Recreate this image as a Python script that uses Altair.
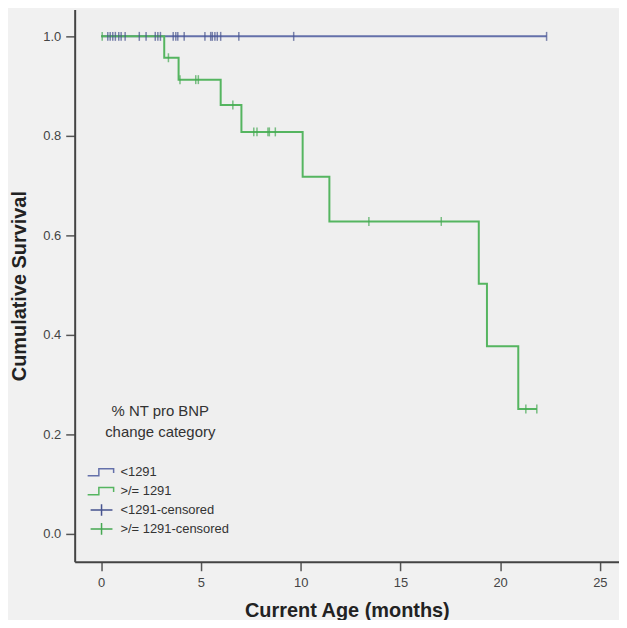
import altair as alt
import pandas as pd

# ---- data ----
# group "<1291": no events, all censored at survival 1.0
blue_censor_times = [0.33, 0.45, 0.58, 0.71, 0.88, 1.0, 1.2, 1.91, 2.25, 2.71, 2.84, 2.97,
                     3.61, 3.74, 3.84, 4.16, 5.2, 5.49, 5.57, 5.70, 5.82, 5.99, 6.9, 9.65, 22.33]
blue_start_time = 0.0
blue_level = 1.0

# group ">/= 1291": step curve (time where a level starts, survival level)
green_step_times = [0.0, 3.16, 3.88, 5.99, 7.03, 10.1, 11.44, 18.93, 19.34, 20.91]
green_step_surv = [1.0, 0.957, 0.913, 0.862, 0.808, 0.718, 0.628, 0.503, 0.377, 0.251]
green_censor_times = [0.05, 3.37, 3.95, 4.74, 4.87, 6.6, 7.65, 7.81, 8.36, 8.43, 8.73,
                      13.42, 17.05, 21.29, 21.84]

x_ticks = [0, 5, 10, 15, 20, 25]
y_ticks = [0.0, 0.2, 0.4, 0.6, 0.8, 1.0]

legend_labels = ["<1291", ">/= 1291", "<1291-censored", ">/= 1291-censored"]

BLUE = "#6470aa"
BLUE_DARK = "#46538f"
GREEN = "#55b560"
GREEN_DARK = "#45a852"

STEP_PATH = "M0,-0.65 M0,0.65 M-1.55,0.4 L-0.3,0.4 L-0.3,-0.4 L1.35,-0.4 L1.35,0.1"
CROSS_PATH = "M-1.22,0 L1.22,0 M0,-0.65 L0,0.65"
legend_colors = [BLUE, GREEN, BLUE_DARK, GREEN_DARK]
legend_shapes = [STEP_PATH, STEP_PATH, CROSS_PATH, CROSS_PATH]


def level_at(t):
    lvl = green_step_surv[0]
    for st, sv in zip(green_step_times, green_step_surv):
        if st <= t:
            lvl = sv
    return lvl


blue_line = pd.DataFrame({"t": [blue_start_time, max(blue_censor_times)],
                          "s": [blue_level, blue_level]})
blue_cens = pd.DataFrame({"t": blue_censor_times, "s": [blue_level] * len(blue_censor_times)})

green_line = pd.DataFrame({"t": green_step_times + [max(green_censor_times)],
                           "s": green_step_surv + [green_step_surv[-1]]})
green_cens = pd.DataFrame({"t": green_censor_times,
                           "s": [level_at(t) for t in green_censor_times]})

legend_df = pd.DataFrame({"series": legend_labels})

FONT = "Liberation Sans"

x_enc = alt.X("t:Q",
              scale=alt.Scale(domain=[-1.33, 25.96], nice=False, zero=False),
              axis=alt.Axis(values=x_ticks, format="d", title="Current Age (months)",
                            labelPadding=6, titlePadding=11))
y_enc = alt.Y("s:Q",
              scale=alt.Scale(domain=[-0.056, 1.054], nice=False, zero=False),
              axis=alt.Axis(values=y_ticks, format=".1f", title="Cumulative Survival",
                            labelPadding=5, titlePadding=13))

line_blue = alt.Chart(blue_line).mark_line(interpolate="step-after", color=BLUE,
                                           strokeWidth=2).encode(x=x_enc, y=y_enc)
line_green = alt.Chart(green_line).mark_line(interpolate="step-after", color=GREEN,
                                             strokeWidth=2).encode(x=x_enc, y=y_enc)
tick_blue = alt.Chart(blue_cens).mark_tick(orient="vertical", size=9, thickness=1.5,
                                           color=BLUE_DARK).encode(x=x_enc, y=y_enc)
tick_green = alt.Chart(green_cens).mark_tick(orient="vertical", size=9, thickness=1.5,
                                             color=GREEN_DARK).encode(x=x_enc, y=y_enc)

leg = alt.Legend(orient="none", legendX=17, legendY=397,
                 title=["% NT pro BNP", "change category"],
                 titleFont=FONT, titleFontSize=15, titleFontWeight="normal",
                 titleColor="#333", titleAnchor="middle", titleLineHeight=21,
                 titlePadding=22,
                 labelFont=FONT, labelFontSize=13, labelColor="#333", labelOffset=9,
                 symbolSize=324, symbolStrokeWidth=1.5, symbolOpacity=1,
                 symbolFillColor="transparent", rowPadding=0, padding=0)

legend_layer = alt.Chart(legend_df).mark_point(opacity=0, filled=False).encode(
    x=alt.value(0), y=alt.value(0),
    color=alt.Color("series:N", scale=alt.Scale(domain=legend_labels, range=legend_colors),
                    legend=leg, title=["% NT pro BNP", "change category"]),
    shape=alt.Shape("series:N", scale=alt.Scale(domain=legend_labels, range=legend_shapes),
                    legend=leg, title=["% NT pro BNP", "change category"]),
)

chart = alt.layer(line_blue, line_green, tick_blue, tick_green, legend_layer).properties(
    width=547, height=555,
    autosize=alt.AutoSizeParams(type="none"),
    padding={"left": 67, "top": 0, "right": 0, "bottom": 57},
    background="#f1f1f1",
).configure_view(
    stroke=None, fill="#efefef"
).configure_axis(
    grid=False, domainColor="#444", domainWidth=2, tickColor="#555", tickWidth=1.5,
    tickSize=9, labelFont=FONT, labelFontSize=13, labelColor="#444",
    titleFont=FONT, titleFontSize=20, titleFontWeight="bold", titleColor="#222",
)

chart.save("out.html", embed_options={"renderer": "svg", "actions": False})
